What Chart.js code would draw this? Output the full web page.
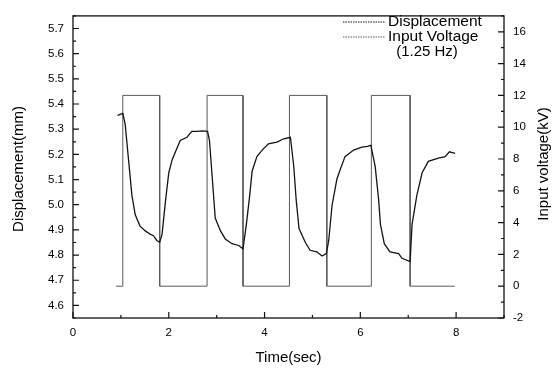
<!DOCTYPE html>
<html>
<head>
<meta charset="utf-8">
<script src="https://cdn.jsdelivr.net/npm/chart.js@4.4.1/dist/chart.umd.min.js"></script>
<style>
  html, body { margin: 0; padding: 0; background: #fff; }
  canvas { display: block; }
</style>
</head>
<body>
<canvas id="c" width="554" height="369"></canvas>
<script>
// ---- data ----
const dispTime = [0.93, 1.04, 1.09, 1.16, 1.23, 1.30, 1.40, 1.51, 1.61, 1.68, 1.75, 1.81,
  1.86, 1.93, 2.00, 2.07, 2.14, 2.24, 2.38, 2.48, 2.59, 2.70, 2.81,
  2.85, 2.90, 2.97, 3.08, 3.18, 3.32, 3.46, 3.55,
  3.62, 3.69, 3.74, 3.84, 3.95, 4.08, 4.26, 4.40, 4.48, 4.54,
  4.61, 4.66, 4.72, 4.85, 4.95, 5.09, 5.20, 5.29,
  5.34, 5.41, 5.51, 5.58, 5.68, 5.86, 6.03, 6.15, 6.22,
  6.31, 6.38, 6.42, 6.50, 6.62, 6.80, 6.87, 7.04,
  7.08, 7.18, 7.29, 7.42, 7.63, 7.77, 7.86, 7.98];
const dispValues = [5.355, 5.363, 5.319, 5.178, 5.037, 4.960, 4.915, 4.896, 4.883, 4.877, 4.858, 4.851,
  4.883, 5.012, 5.127, 5.178, 5.210, 5.255, 5.268, 5.291, 5.291, 5.293, 5.291,
  5.255, 5.127, 4.947, 4.896, 4.864, 4.845, 4.838, 4.825,
  4.922, 5.037, 5.133, 5.191, 5.217, 5.242, 5.249, 5.262, 5.265, 5.268,
  5.152, 5.020, 4.905, 4.851, 4.819, 4.813, 4.796, 4.806,
  4.858, 4.998, 5.101, 5.140, 5.191, 5.217, 5.229, 5.232, 5.236,
  5.152, 5.024, 4.922, 4.845, 4.813, 4.806, 4.787, 4.774,
  4.922, 5.037, 5.127, 5.172, 5.185, 5.191, 5.210, 5.204];

const voltTime = [0.90, 1.04, 1.04, 1.81, 1.81, 2.80, 2.80, 3.55, 3.55, 4.52, 4.52, 5.30, 5.30, 6.23, 6.23, 7.04, 7.04, 7.97];
const voltValues = [0, 0, 12, 12, 0, 0, 12, 12, 0, 0, 12, 12, 0, 0, 12, 12, 0, 0];

const xTicks = [0, 2, 4, 6, 8];
const xMinorTicks = [1, 3, 5, 7, 9];
const leftTicks = [4.6, 4.7, 4.8, 4.9, 5.0, 5.1, 5.2, 5.3, 5.4, 5.5, 5.6, 5.7];
const leftMinorTicks = [4.55, 4.65, 4.75, 4.85, 4.95, 5.05, 5.15, 5.25, 5.35, 5.45, 5.55, 5.65, 5.75];
const rightTicks = [-2, 0, 2, 4, 6, 8, 10, 12, 14, 16];
const rightMinorTicks = [-1, 1, 3, 5, 7, 9, 11, 13, 15, 17];

const seriesLabels = ['Displacement', 'Input Voltage'];
const legendNote = '(1.25 Hz)';
const xTitle = 'Time(sec)';
const yTitle = 'Displacement(mm)';
const y2Title = 'Input voltage(kV)';

// ---- drawing ----
const FAMILY = '"Liberation Sans", Arial, Helvetica, sans-serif';

const framePlugin = {
  id: 'frame',
  afterDraw(chart) {
    const ctx = chart.ctx;
    const a = chart.chartArea;
    const sx = chart.scales.x, sy = chart.scales.y, sy2 = chart.scales.y2;
    ctx.save();
    ctx.strokeStyle = '#111';
    ctx.lineWidth = 1.3;
    ctx.strokeRect(a.left, a.top, a.right - a.left, a.bottom - a.top);

    ctx.lineWidth = 1.2;
    ctx.beginPath();
    const tick = (x1, y1, x2, y2) => { ctx.moveTo(x1, y1); ctx.lineTo(x2, y2); };
    xTicks.forEach(v => { const p = sx.getPixelForValue(v); tick(p, a.bottom, p, a.bottom - 6); });
    xMinorTicks.forEach(v => { const p = sx.getPixelForValue(v); tick(p, a.bottom, p, a.bottom - 3); });
    leftTicks.forEach(v => { const p = sy.getPixelForValue(v); tick(a.left, p, a.left + 6, p); });
    leftMinorTicks.forEach(v => { const p = sy.getPixelForValue(v); tick(a.left, p, a.left + 3, p); });
    rightTicks.forEach(v => { const p = sy2.getPixelForValue(v); tick(a.right, p, a.right - 6, p); });
    rightMinorTicks.forEach(v => { const p = sy2.getPixelForValue(v); tick(a.right, p, a.right - 3, p); });
    ctx.stroke();

    // axis titles
    ctx.fillStyle = '#000';
    ctx.font = '15px ' + FAMILY;
    ctx.textAlign = 'center';
    ctx.textBaseline = 'middle';
    ctx.fillText(xTitle, (a.left + a.right) / 2, 358);

    ctx.save();
    ctx.translate(19, 169);
    ctx.rotate(-Math.PI / 2);
    ctx.fillText(yTitle, 0, 0);
    ctx.restore();

    ctx.save();
    ctx.translate(544, 164);
    ctx.rotate(-Math.PI / 2);
    ctx.fillText(y2Title, 0, 0);
    ctx.restore();

    // legend
    const ds = chart.data.datasets;
    const rows = [22, 37];
    ctx.font = '15.5px ' + FAMILY;
    ctx.textAlign = 'left';
    rows.forEach((yy, i) => {
      ctx.strokeStyle = ds[i].borderColor;
      ctx.lineWidth = 1;
      ctx.setLineDash([1.5, 1]);
      ctx.beginPath();
      ctx.moveTo(343, yy); ctx.lineTo(385, yy);
      ctx.stroke();
      ctx.setLineDash([]);
      ctx.fillStyle = '#000';
      ctx.fillText(seriesLabels[i], 388, yy);
    });
    ctx.textAlign = 'center';
    ctx.font = '15px ' + FAMILY;
    ctx.fillText(legendNote, 427, 52);
    ctx.restore();
  }
};

const toPoints = (xs, ys) => xs.map((x, i) => ({ x: x, y: ys[i] }));
const tickFont = { family: FAMILY, size: 11.5 };

new Chart(document.getElementById('c'), {
  type: 'scatter',
  data: {
    datasets: [
      {
        label: seriesLabels[0],
        data: toPoints(dispTime, dispValues),
        yAxisID: 'y',
        showLine: true,
        borderColor: '#141414',
        borderWidth: 1.3,
        pointRadius: 0,
        tension: 0
      },
      {
        label: seriesLabels[1],
        data: toPoints(voltTime, voltValues),
        yAxisID: 'y2',
        showLine: true,
        borderColor: '#5a5a5a',
        borderWidth: 1,
        pointRadius: 0,
        tension: 0
      }
    ]
  },
  options: {
    responsive: false,
    animation: false,
    devicePixelRatio: 1,
    layout: { padding: { top: 6, left: 0, right: 0, bottom: 0 } },
    plugins: { legend: { display: false }, tooltip: { enabled: false } },
    scales: {
      x: {
        type: 'linear', min: 0, max: 9,
        afterBuildTicks: s => { s.ticks = xTicks.map(v => ({ value: v })); },
        afterFit: s => { s.height = 51; },
        grid: { display: false, drawTicks: false }, border: { display: false },
        ticks: { font: tickFont, color: '#000', padding: 8, maxRotation: 0, autoSkip: false }
      },
      y: {
        type: 'linear', position: 'left', min: 4.55, max: 5.75,
        afterBuildTicks: s => { s.ticks = leftTicks.map(v => ({ value: v })); },
        afterFit: s => { s.width = 73; },
        grid: { display: false, drawTicks: false }, border: { display: false },
        ticks: { font: tickFont, color: '#000', padding: 9, autoSkip: false, callback: v => Number(v).toFixed(1) }
      },
      y2: {
        type: 'linear', position: 'right', min: -2, max: 17,
        afterBuildTicks: s => { s.ticks = rightTicks.map(v => ({ value: v })); },
        afterFit: s => { s.width = 50; },
        grid: { display: false, drawTicks: false }, border: { display: false },
        ticks: { font: tickFont, color: '#000', padding: 9, autoSkip: false }
      }
    }
  },
  plugins: [framePlugin]
});
</script>
</body>
</html>
